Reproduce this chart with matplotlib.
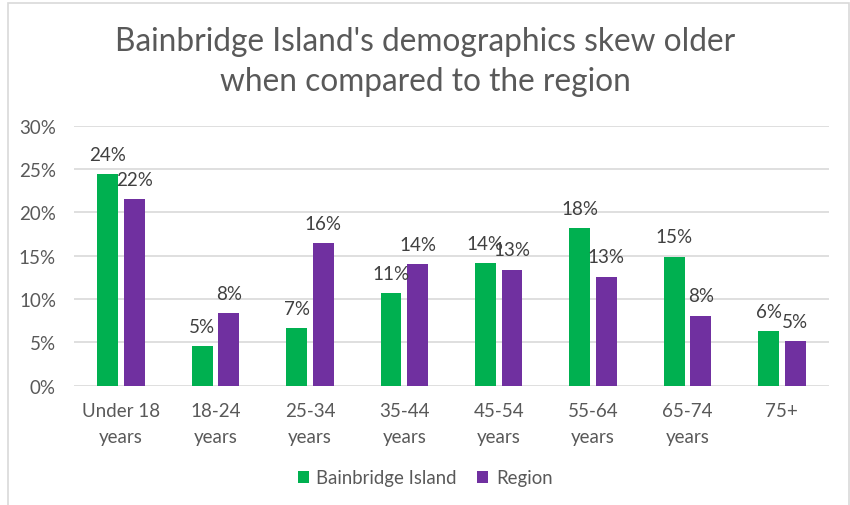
import matplotlib
matplotlib.use('Agg')
import matplotlib.pyplot as plt
import numpy as np
from matplotlib.patches import Rectangle

## Data
categories = ['Under 18\nyears', '18-24\nyears', '25-34\nyears', '35-44\nyears',
              '45-54\nyears', '55-64\nyears', '65-74\nyears', '75+']
bainbridge = [24.4, 4.6, 6.7, 10.7, 14.2, 18.2, 14.9, 6.3]
region = [21.5, 8.4, 16.5, 14.0, 13.4, 12.6, 8.1, 5.2]
series_names = ['Bainbridge Island', 'Region']
title = "Bainbridge Island's demographics skew older\nwhen compared to the region"

green = '#00B050'
purple = '#7030A0'
text_grey = '#595959'

plt.rcParams['font.family'] = ['Lato', 'DejaVu Sans']

fig = plt.figure(figsize=(8.5, 5.06), dpi=100)
ax = fig.add_axes([74 / 850, 1 - 386.7 / 506, (829 - 74) / 850, 260 / 506])

## Chart border
fig.patches.append(Rectangle((8 / 850, -0.05), 841 / 850, 1 - 4 / 506 + 0.05,
                             transform=fig.transFigure, fill=False,
                             edgecolor='#d9d9d9', linewidth=1.2))

x = np.arange(len(categories))
w = 0.222
off = 0.141
b1 = ax.bar(x - off, bainbridge, w, color=green, label=series_names[0], zorder=3)
b2 = ax.bar(x + off, region, w, color=purple, label=series_names[1], zorder=3)

## Data labels
for bars in (b1, b2):
    for rect in bars:
        v = rect.get_height()
        ax.annotate('%d%%' % round(v), (rect.get_x() + rect.get_width() / 2, v),
                    xytext=(0, 8), textcoords='offset points', ha='center', va='bottom',
                    fontsize=13.5, color='#404040', zorder=4)

ax.set_xlim(-0.5, len(categories) - 0.5)
ax.set_ylim(0, 30)
ax.set_yticks(range(0, 31, 5))
ax.set_yticklabels(['%d%%' % t for t in range(0, 31, 5)])
ax.set_xticks(x)
ax.set_xticklabels(categories, linespacing=1.65)
ax.tick_params(axis='both', length=0, labelsize=13.5, labelcolor=text_grey)
ax.tick_params(axis='y', pad=13)
ax.tick_params(axis='x', pad=12)
ax.grid(axis='y', color='#d9d9d9', linewidth=1.2, zorder=0)
for s in ax.spines.values():
    s.set_visible(False)

fig.text(0.5, 1 - 62 / 506, title, ha='center', va='center', fontsize=22.8,
         color=text_grey, linespacing=1.38)

leg = fig.legend(loc='center', bbox_to_anchor=(0.5, 1 - 479 / 506), ncol=2,
                 frameon=False, fontsize=13.4, handlelength=0.6, handleheight=0.6,
                 handletextpad=0.4, columnspacing=1.1)
for t in leg.get_texts():
    t.set_color(text_grey)

plt.savefig('out.png', dpi=100)
